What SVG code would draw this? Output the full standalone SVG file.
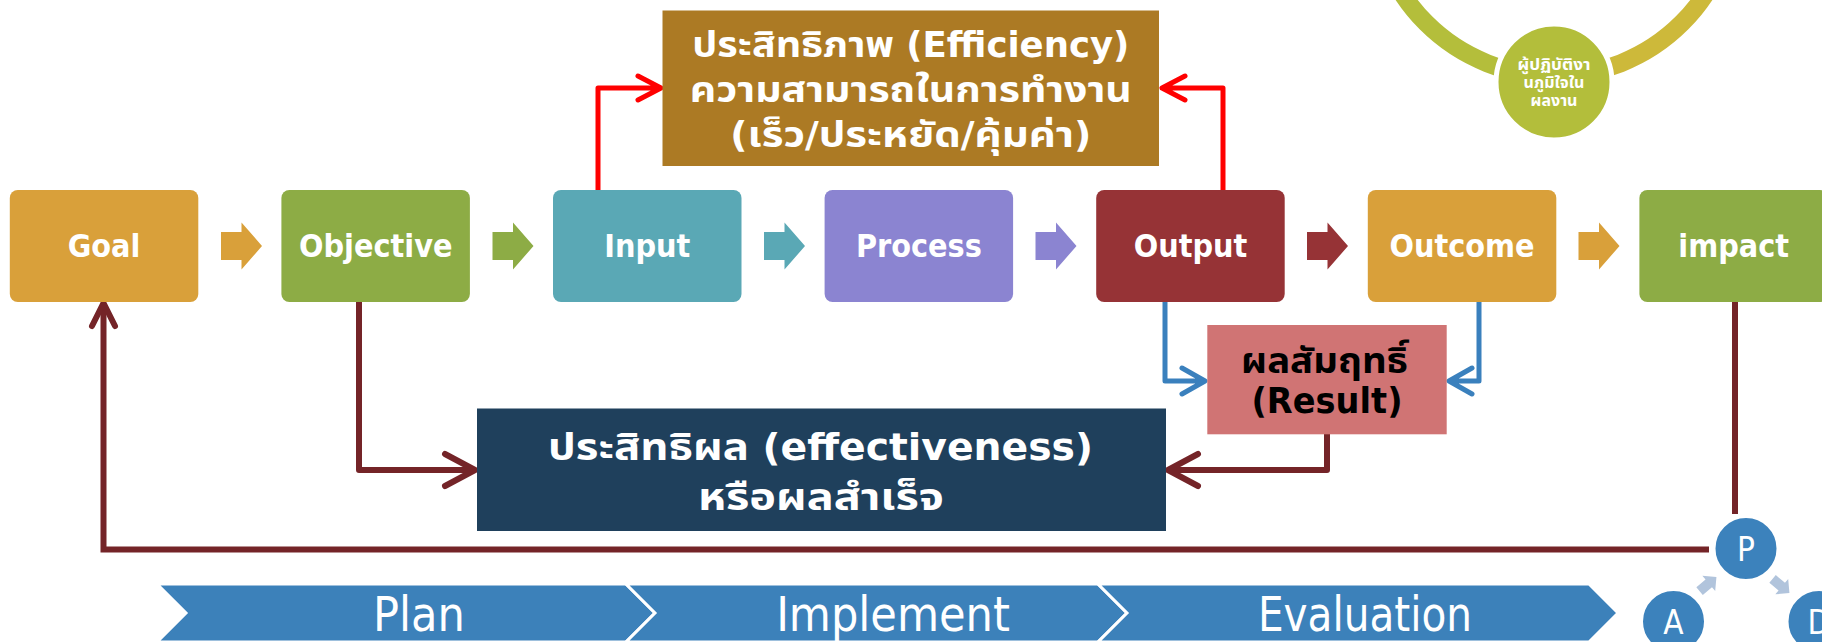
<svg xmlns="http://www.w3.org/2000/svg" width="1822" height="642" viewBox="0 0 1822 642">
<style>
text{font-family:"DejaVu Sans","Noto Sans Thai","Noto Sans",sans-serif;font-stretch:condensed;text-anchor:middle}
.bt{font-size:32px;font-weight:bold;fill:#fff}
.th{font-size:36px;font-weight:bold;fill:#fff}
.ef{font-size:38px;font-weight:bold;fill:#fff}
.rs{font-size:35px;font-weight:bold;fill:#000}
.ch{font-size:48px;fill:#fff}
.pd{font-size:33px;fill:#fff}
.sm{font-size:16px;font-weight:bold;fill:#fff}
.mar{fill:none;stroke:#742428;stroke-width:6;stroke-linecap:round;stroke-linejoin:round}
.red{fill:none;stroke:#FF0000;stroke-width:5;stroke-linecap:round;stroke-linejoin:round}
.blu{fill:none;stroke:#3A80BD;stroke-width:5;stroke-linecap:round;stroke-linejoin:round}
.chev{fill:#3C81BA;stroke:#fff;stroke-width:3}
.circ{fill:#3C82BC;stroke:#fff;stroke-width:3}
</style>

<g id="deco-ring">
<path d="M1373,-105 A181,181 0 0 0 1554,76" fill="none" stroke="#B4BE3B" stroke-width="18"/>
<path d="M1554,76 A181,181 0 0 0 1735,-105" fill="none" stroke="#CDB93A" stroke-width="18"/>
</g>
<g id="node-proud">
<circle cx="1554" cy="82" r="58" fill="#B3BE3B" stroke="#fff" stroke-width="5"/>
<text class="sm" x="1554" y="70" textLength="73" lengthAdjust="spacingAndGlyphs">ผู้ปฏิบัติงา</text>
<text class="sm" x="1554" y="88">นภูมิใจใน</text>
<text class="sm" x="1554" y="106">ผลงาน</text>
</g>

<g id="connectors">
<path class="red" d="M598,190 V88 H660 M638,76 L661,88 L638,100"/>
<path class="red" d="M1223,190 V88 H1162 M1185,76 L1162,88 L1185,100"/>
<path class="blu" d="M1165,302 V381 H1204 M1182,368 L1205,381 L1182,394"/>
<path class="blu" d="M1479,302 V381 H1450 M1472,368 L1449,381 L1472,394"/>
<path class="mar" d="M359,302 V470 H474 M445,454 L475,470 L445,486"/>
<path class="mar" d="M1327,434 V470 H1169 M1198,454 L1168,470 L1198,486"/>
<path fill="none" stroke="#742428" stroke-width="6" d="M1735,302 V514"/>
<path fill="none" stroke="#742428" stroke-width="6" d="M1709,549.5 H103.5 V305"/>
<path class="mar" stroke-width="5" d="M92,326 L103.5,303 L115,326"/>
<path fill="#D9A03A" d="M221,232 H241.5 V222.5 L262,246 L241.5,269.5 V260 H221 Z"/>
<path fill="#8DAC45" d="M492.5,232 H513 V222.5 L533.5,246 L513,269.5 V260 H492.5 Z"/>
<path fill="#5AA8B5" d="M764,232 H784.5 V222.5 L805,246 L784.5,269.5 V260 H764 Z"/>
<path fill="#8B84D1" d="M1035.5,232 H1056 V222.5 L1076.5,246 L1056,269.5 V260 H1035.5 Z"/>
<path fill="#963336" d="M1307,232 H1327.5 V222.5 L1348,246 L1327.5,269.5 V260 H1307 Z"/>
<path fill="#D9A03A" d="M1578.5,232 H1599 V222.5 L1619.5,246 L1599,269.5 V260 H1578.5 Z"/>
<path fill="#B1C4DC" transform="translate(1708,584) rotate(-40)" d="M-11,-5 H1 V-10 L11,0 L1,10 V5 H-11 Z"/>
<path fill="#B1C4DC" transform="translate(1781,586) rotate(40)" d="M-11,-5 H1 V-10 L11,0 L1,10 V5 H-11 Z"/>
</g>

<g id="node-efficiency">
<rect x="662.5" y="10.5" width="496.5" height="155.5" fill="#AC7A24"/>
<text class="th" x="910.8" y="57" textLength="437" lengthAdjust="spacingAndGlyphs">ประสิทธิภาพ (Efficiency)</text>
<text class="th" x="910.8" y="102" textLength="442" lengthAdjust="spacingAndGlyphs">ความสามารถในการทำงาน</text>
<text class="th" x="910.8" y="147" textLength="361" lengthAdjust="spacingAndGlyphs">(เร็ว/ประหยัด/คุ้มค่า)</text>
</g>

<g id="node-goal"><rect x="9.8" y="190" width="188.5" height="112" rx="8" fill="#D9A03A"/><text class="bt" x="104" y="257">Goal</text></g>
<g id="node-objective"><rect x="281.4" y="190" width="188.5" height="112" rx="8" fill="#8DAC45"/><text class="bt" x="375.7" y="257">Objective</text></g>
<g id="node-input"><rect x="553" y="190" width="188.5" height="112" rx="8" fill="#5AA8B5"/><text class="bt" x="647.3" y="257">Input</text></g>
<g id="node-process"><rect x="824.6" y="190" width="188.5" height="112" rx="8" fill="#8B84D1"/><text class="bt" x="918.9" y="257">Process</text></g>
<g id="node-output"><rect x="1096.2" y="190" width="188.5" height="112" rx="8" fill="#963336"/><text class="bt" x="1190.5" y="257">Output</text></g>
<g id="node-outcome"><rect x="1367.8" y="190" width="188.5" height="112" rx="8" fill="#D9A03A"/><text class="bt" x="1462" y="257">Outcome</text></g>
<g id="node-impact"><rect x="1639.4" y="190" width="188.5" height="112" rx="8" fill="#8DAC45"/><text class="bt" x="1733.7" y="257">impact</text></g>

<g id="node-result">
<rect x="1207.3" y="325" width="239.4" height="109.3" fill="#D07474"/>
<text class="rs" x="1324.5" y="373" textLength="167" lengthAdjust="spacingAndGlyphs">ผลสัมฤทธิ์</text>
<text class="rs" x="1327" y="413" textLength="151" lengthAdjust="spacingAndGlyphs">(Result)</text>
</g>

<g id="node-effectiveness">
<rect x="477" y="408.5" width="689" height="122.5" fill="#1F405C"/>
<text class="ef" x="820.5" y="460" textLength="545" lengthAdjust="spacingAndGlyphs">ประสิทธิผล (effectiveness)</text>
<text class="ef" x="821" y="510" textLength="246" lengthAdjust="spacingAndGlyphs">หรือผลสำเร็จ</text>
</g>

<g id="phase-plan"><path class="chev" d="M157,584 H626 L655,613 L626,642 H157 L186,613 Z"/><text class="ch" x="419" y="631">Plan</text></g>
<g id="phase-implement"><path class="chev" d="M626,584 H1098 L1127,613 L1098,642 H626 L655,613 Z"/><text class="ch" x="893" y="631">Implement</text></g>
<g id="phase-evaluation"><path class="chev" d="M1098,584 H1589 L1618,613 L1589,642 H1098 L1127,613 Z"/><text class="ch" x="1365" y="631" textLength="214" lengthAdjust="spacingAndGlyphs">Evaluation</text></g>

<g id="node-p"><circle class="circ" cx="1746" cy="548.5" r="32"/><text class="pd" x="1746" y="561">P</text></g>
<g id="node-a"><circle class="circ" cx="1673.5" cy="621.5" r="32"/><text class="pd" x="1673.5" y="634">A</text></g>
<g id="node-d"><circle class="circ" cx="1819" cy="621.5" r="32"/><text class="pd" x="1819" y="634">D</text></g>
</svg>
